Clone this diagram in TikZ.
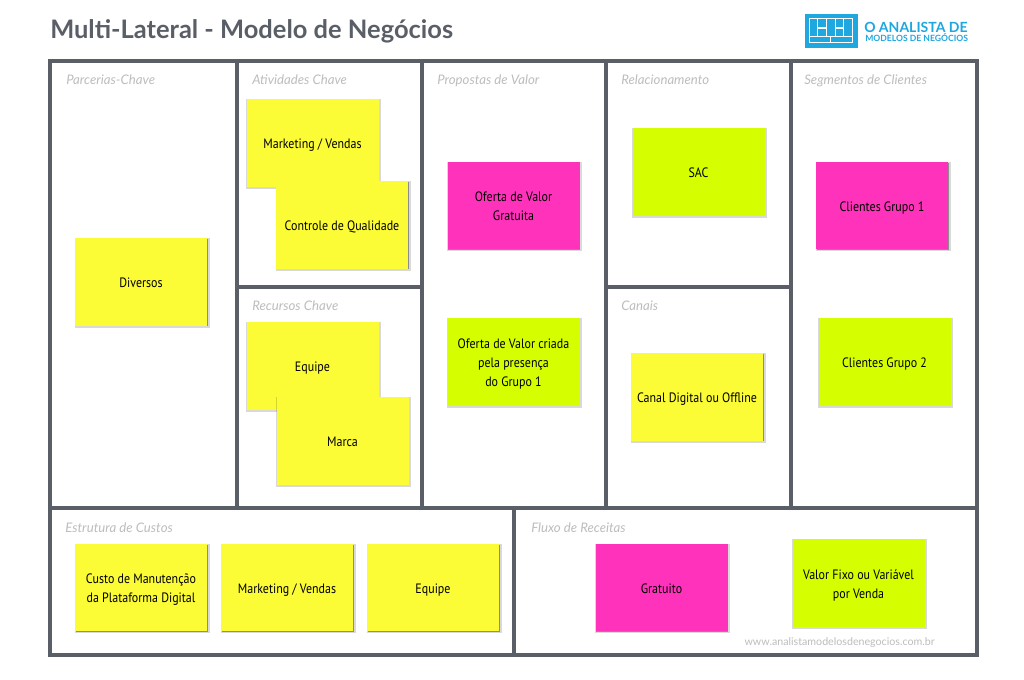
\documentclass[tikz,border=0pt]{standalone}
\usepackage{fontspec}
\setmainfont{Lato}
\newfontfamily\notefont[FakeStretch=0.88]{PT Sans}
\usetikzlibrary{shadows}
\definecolor{framec}{HTML}{5A5F67}
\definecolor{titlec}{HTML}{5A5F67}
\definecolor{labelc}{HTML}{BDBDBD}
\definecolor{noteY}{HTML}{FBFB36}
\definecolor{noteP}{HTML}{FF33BB}
\definecolor{noteG}{HTML}{D5FF00}
\definecolor{logoc}{HTML}{1FA7E0}
\newcommand\nt[1]{\vbox{\kern3pt\hbox{\begin{tabular}{@{}c@{}}#1\end{tabular}}}}
\tikzset{
  x=0.75pt,y=-0.75pt,
  cell/.style={draw=framec,line width=3pt,fill=white,line join=miter},
  celltitle/.style={anchor=base west,inner sep=0pt,text=labelc,font=\fontsize{9.9pt}{11pt}\selectfont\itshape},
  note/.style={minimum width=99pt,minimum height=65.5pt,inner sep=0pt,text=black,
    font=\notefont\fontsize{10.2pt}{14.3pt}\selectfont,
    drop shadow={shadow xshift=0.9pt,shadow yshift=-0.6pt,shadow scale=1.025,opacity=0.15,fill=black},
    drop shadow={shadow xshift=0.6pt,shadow yshift=-0.6pt,opacity=0.35,fill=black}},
  ynote/.style={note,fill=noteY},
  pnote/.style={note,fill=noteP},
  gnote/.style={note,fill=noteG},
  logobar/.style={fill=logoc,draw=none}
}
\begin{document}
\begin{tikzpicture}
\useasboundingbox (0,0) rectangle (1024,680);
\fill[white] (0,0) rectangle (1024,680);
% title
\node[anchor=base west,inner sep=0pt,text=titlec,font=\fontsize{19.1pt}{22pt}\selectfont\bfseries] (title) at (50,39) {Multi-Lateral - Modelo de Negócios};
% logo
\fill[logoc] (805,14) rectangle (857.5,48);
\fill[white] (809,18) rectangle (853,43.5);
\fill[logobar] (810,19) rectangle (817.3,35.7);
\fill[logobar] (818.3,19) rectangle (826,27);
\fill[logobar] (818.3,29) rectangle (826,35.7);
\fill[logobar] (827.3,19) rectangle (834.5,35.7);
\fill[logobar] (835.7,19) rectangle (843,27);
\fill[logobar] (835.7,29) rectangle (843,35.7);
\fill[logobar] (844.2,19) rectangle (852,35.7);
\fill[logobar] (810,37.5) rectangle (830,42.5);
\fill[logobar] (831,37.5) rectangle (852,42.5);
\node[anchor=west,inner sep=0pt,text=logoc,font=\fontsize{10.5pt}{12pt}\selectfont\bfseries] (logo1) at (864,27.5) {O ANALISTA DE};
\node[anchor=west,inner sep=0pt,text=logoc,font=\fontsize{6.45pt}{8pt}\selectfont\bfseries] (logo2) at (865,38) {MODELOS DE NEGÓCIOS};
% canvas cells
\draw[cell] (50,61) rectangle (977,655);
\draw[cell] (236.5,61) -- (236.5,507.5);
\draw[cell] (421.5,61) -- (421.5,507.5);
\draw[cell] (606,61) -- (606,507.5);
\draw[cell] (791,61) -- (791,507.5);
\draw[cell] (236.5,287) -- (421.5,287);
\draw[cell] (606,287) -- (791,287);
\draw[cell] (50,507.5) -- (977,507.5);
\draw[cell] (514,507.5) -- (514,655);
% cell titles
\node[celltitle] (t1) at (66,85) {Parcerias-Chave};
\node[celltitle] (t2) at (252,85) {Atividades Chave};
\node[celltitle] (t3) at (437,85) {Propostas de Valor};
\node[celltitle] (t4) at (621,85) {Relacionamento};
\node[celltitle] (t5) at (804,85) {Segmentos de Clientes};
\node[celltitle] (t6) at (252,311) {Recursos Chave};
\node[celltitle] (t7) at (621,311) {Canais};
\node[celltitle] (t8) at (65,532) {Estrutura de Custos};
\node[celltitle] (t9) at (531,532) {Fluxo de Receitas};
% notes
\node[ynote] (n1) at (141,282) {\nt{Diversos}};
\node[ynote] (n2) at (312.5,143) {\nt{Marketing / Vendas}};
\node[ynote] (n3) at (342,225) {\nt{Controle de Qualidade}};
\node[ynote] (n4) at (312.5,366) {\nt{Equipe}};
\node[ynote] (n5) at (342.5,441) {\nt{Marca}};
\node[pnote] (n6) at (513.5,205.5) {\nt{Oferta de Valor\\Gratuita}};
\node[gnote] (n7) at (513.5,362) {\nt{Oferta de Valor criada\\pela presença\\do Grupo 1}};
\node[gnote] (n8) at (698.5,172) {\nt{SAC}};
\node[ynote] (n9) at (697,397) {\nt{Canal Digital ou Offline}};
\node[pnote] (n10) at (882,205.5) {\nt{Clientes Grupo 1}};
\node[gnote] (n11) at (884.5,362) {\nt{Clientes Grupo 2}};
\node[ynote] (n12) at (141,587.5) {\nt{Custo de Manutenção\\da Plataforma Digital}};
\node[ynote] (n13) at (287,587.5) {\nt{Marketing / Vendas}};
\node[ynote] (n14) at (433,587.5) {\nt{Equipe}};
\node[pnote] (n15) at (661.5,587.5) {\nt{Gratuito}};
\node[gnote] (n16) at (858.5,583) {\nt{Valor Fixo ou Variável\\por Venda}};
% website
\node[anchor=east,inner sep=0pt,text=labelc,font=\fontsize{8pt}{9pt}\selectfont] (web) at (935,643) {www.analistamodelosdenegocios.com.br};
\end{tikzpicture}
\end{document}
